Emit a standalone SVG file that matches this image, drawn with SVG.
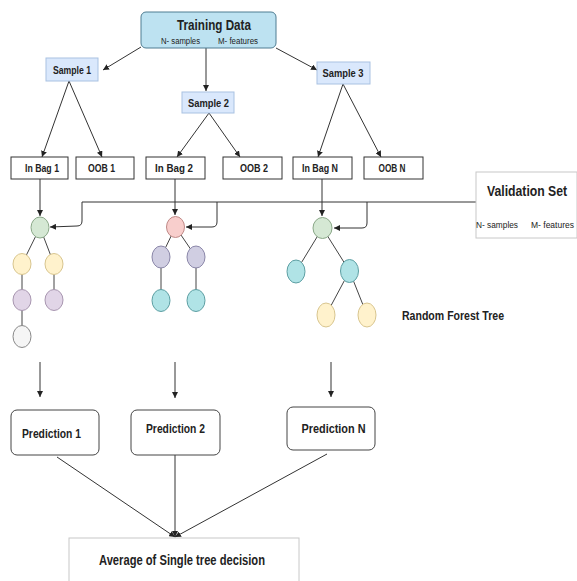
<svg xmlns="http://www.w3.org/2000/svg" width="577" height="581" viewBox="0 0 577 581">
<defs>
<marker id="arr" viewBox="0 0 10 10" refX="10" refY="5" markerWidth="6" markerHeight="6" markerUnits="userSpaceOnUse" orient="auto">
<path d="M0,0 L10,5 L0,10 Z" fill="#222"/>
</marker>
<style>
.t{font-family:"Liberation Sans",Arial,sans-serif;fill:#222;}
.b{font-weight:bold;}
.c{stroke:#333;stroke-width:1;fill:none;}
.bag{fill:#fff;stroke:#333;stroke-width:1;}
.smp{fill:#dae8fc;stroke:#a9c2e2;stroke-width:1;}
.pred{fill:#fff;stroke:#444;stroke-width:1;}
.lt{fill:#fff;stroke:#c8c8c8;stroke-width:1;}
.edge{stroke:#444;stroke-width:1;}
.g{fill:#d5e8d4;stroke:#8aa888;}
.y{fill:#fff2cc;stroke:#d8c58e;}
.p{fill:#e1d5e7;stroke:#a896b0;}
.w{fill:#f5f5f5;stroke:#888;}
.r{fill:#f8cecc;stroke:#c08a88;}
.l{fill:#d0cee2;stroke:#8a86a8;}
.q{fill:#b0e3e6;stroke:#5c9ea2;}
</style>
</defs>

<g id="connectors">
<path class="c" d="M141,47 L103,70" marker-end="url(#arr)"/>
<path class="c" d="M206,48 L206,91" marker-end="url(#arr)"/>
<path class="c" d="M276,48 L317,70" marker-end="url(#arr)"/>
<path class="c" d="M69,81 L42,157" marker-end="url(#arr)"/>
<path class="c" d="M69,81 L102,157" marker-end="url(#arr)"/>
<path class="c" d="M209,113 L177,157" marker-end="url(#arr)"/>
<path class="c" d="M209,113 L240,157" marker-end="url(#arr)"/>
<path class="c" d="M343,84 L318,157" marker-end="url(#arr)"/>
<path class="c" d="M343,84 L381,157" marker-end="url(#arr)"/>
<path class="c" d="M40,179 L40,216" marker-end="url(#arr)"/>
<path class="c" d="M175,179 L175,215" marker-end="url(#arr)"/>
<path class="c" d="M322,179 L322,216" marker-end="url(#arr)"/>
<path class="c" d="M476,202 H82"/>
<path class="c" d="M82,202 V221 Q82,226 77,226 L50,227" marker-end="url(#arr)"/>
<path class="c" d="M217,202 V222 Q217,227 212,227 H186" marker-end="url(#arr)"/>
<path class="c" d="M367,202 V223 Q367,228 362,228 H334" marker-end="url(#arr)"/>
<path class="c" d="M40,362 L40,397" marker-end="url(#arr)"/>
<path class="c" d="M175,362 L175,398" marker-end="url(#arr)"/>
<path class="c" d="M331,362 L331,397" marker-end="url(#arr)"/>
<path class="c" d="M57,457 L175,537" marker-end="url(#arr)"/>
<path class="c" d="M175,455 L175,537" marker-end="url(#arr)"/>
<path class="c" d="M327,454 L175,537" marker-end="url(#arr)"/>
</g>

<g id="training-data">
<rect x="141" y="12" width="135" height="36" rx="5" fill="#bde2f1" stroke="#4f7d92" stroke-width="1"/>
<text class="t b" x="214" y="30" font-size="14" text-anchor="middle" textLength="74" lengthAdjust="spacingAndGlyphs">Training Data</text>
<text class="t" x="161" y="44" font-size="8.5" textLength="39" lengthAdjust="spacingAndGlyphs">N- samples</text>
<text class="t" x="218" y="44" font-size="8.5" textLength="40" lengthAdjust="spacingAndGlyphs">M- features</text>
</g>

<g id="sample-1">
<rect class="smp" x="46" y="58" width="52" height="23"/>
<text class="t b" x="72" y="73.5" font-size="10" text-anchor="middle" textLength="38" lengthAdjust="spacingAndGlyphs">Sample 1</text>
</g>
<g id="sample-2">
<rect class="smp" x="182" y="92" width="52" height="21"/>
<text class="t b" x="208.5" y="106.5" font-size="10" text-anchor="middle" textLength="41" lengthAdjust="spacingAndGlyphs">Sample 2</text>
</g>
<g id="sample-3">
<rect class="smp" x="317" y="62" width="53" height="22"/>
<text class="t b" x="343" y="76.5" font-size="10" text-anchor="middle" textLength="41" lengthAdjust="spacingAndGlyphs">Sample 3</text>
</g>

<g id="in-bag-1">
<rect class="bag" x="11" y="157" width="57" height="22"/>
<text class="t b" x="42" y="171.5" font-size="10" text-anchor="middle" textLength="34" lengthAdjust="spacingAndGlyphs">In Bag 1</text>
</g>
<g id="oob-1">
<rect class="bag" x="76" y="157" width="58" height="22"/>
<text class="t b" x="101.5" y="171.5" font-size="10" text-anchor="middle" textLength="27" lengthAdjust="spacingAndGlyphs">OOB 1</text>
</g>
<g id="in-bag-2">
<rect class="bag" x="146" y="157" width="59" height="22"/>
<text class="t b" x="174" y="171.5" font-size="10" text-anchor="middle" textLength="38" lengthAdjust="spacingAndGlyphs">In Bag 2</text>
</g>
<g id="oob-2">
<rect class="bag" x="223" y="157" width="59" height="22"/>
<text class="t b" x="254" y="171.5" font-size="10" text-anchor="middle" textLength="28" lengthAdjust="spacingAndGlyphs">OOB 2</text>
</g>
<g id="in-bag-n">
<rect class="bag" x="293" y="157" width="59" height="22"/>
<text class="t b" x="320" y="171.5" font-size="10" text-anchor="middle" textLength="36" lengthAdjust="spacingAndGlyphs">In Bag N</text>
</g>
<g id="oob-n">
<rect class="bag" x="364" y="157" width="59" height="22"/>
<text class="t b" x="392" y="171.5" font-size="10" text-anchor="middle" textLength="27" lengthAdjust="spacingAndGlyphs">OOB N</text>
</g>

<g id="validation-set">
<rect class="lt" x="476" y="172" width="101" height="66"/>
<text class="t b" font-size="15" transform="translate(487,196) scale(0.815,1)">Validation Set</text>
<text class="t" x="476" y="228" font-size="9" textLength="42" lengthAdjust="spacingAndGlyphs">N- samples</text>
<text class="t" x="531" y="228" font-size="9" textLength="43" lengthAdjust="spacingAndGlyphs">M- features</text>
</g>

<g id="tree-1">
<line class="edge" x1="40" y1="227.5" x2="22" y2="264"/>
<line class="edge" x1="40" y1="227.5" x2="54" y2="264"/>
<line class="edge" x1="22" y1="264" x2="22" y2="336"/>
<line class="edge" x1="54" y1="264" x2="54" y2="300"/>
<ellipse class="g" cx="40" cy="227.5" rx="9" ry="10.5"/>
<ellipse class="y" cx="22" cy="264" rx="9" ry="10.5"/>
<ellipse class="y" cx="54" cy="264" rx="9" ry="10.5"/>
<ellipse class="p" cx="22" cy="300" rx="9" ry="10.5"/>
<ellipse class="p" cx="54" cy="300" rx="9" ry="10.5"/>
<ellipse class="w" cx="22" cy="336.5" rx="9" ry="11"/>
</g>

<g id="tree-2">
<line class="edge" x1="175.5" y1="227" x2="161" y2="257"/>
<line class="edge" x1="175.5" y1="227" x2="196" y2="257"/>
<line class="edge" x1="161" y1="257" x2="161" y2="300"/>
<line class="edge" x1="196" y1="257" x2="196" y2="300"/>
<ellipse class="r" cx="175.5" cy="227" rx="9" ry="10.5"/>
<ellipse class="l" cx="161" cy="257" rx="9" ry="11"/>
<ellipse class="l" cx="196" cy="257" rx="9" ry="11"/>
<ellipse class="q" cx="161" cy="300.5" rx="9" ry="11"/>
<ellipse class="q" cx="196" cy="300.5" rx="9" ry="11"/>
</g>

<g id="tree-n">
<line class="edge" x1="322.5" y1="228" x2="296" y2="271.5"/>
<line class="edge" x1="322.5" y1="228" x2="349.5" y2="271"/>
<line class="edge" x1="349.5" y1="271" x2="326" y2="315"/>
<line class="edge" x1="349.5" y1="271" x2="367" y2="315"/>
<ellipse class="g" cx="322.5" cy="228" rx="9.5" ry="10.5"/>
<ellipse class="q" cx="296" cy="271.5" rx="9" ry="11.5"/>
<ellipse class="q" cx="349.5" cy="271" rx="9" ry="11.5"/>
<ellipse class="y" cx="326" cy="315" rx="9" ry="12"/>
<ellipse class="y" cx="367" cy="315" rx="9" ry="12"/>
</g>

<g id="random-forest-label">
<text class="t b" x="402" y="320" font-size="12" textLength="102" lengthAdjust="spacingAndGlyphs">Random Forest Tree</text>
</g>

<g id="prediction-1">
<rect class="pred" x="11" y="410" width="88" height="45" rx="6"/>
<text class="t b" x="51.5" y="437.5" font-size="13" text-anchor="middle" textLength="59" lengthAdjust="spacingAndGlyphs">Prediction 1</text>
</g>
<g id="prediction-2">
<rect class="pred" x="131" y="410" width="89" height="45" rx="6"/>
<text class="t b" x="175.5" y="432.5" font-size="13" text-anchor="middle" textLength="59" lengthAdjust="spacingAndGlyphs">Prediction 2</text>
</g>
<g id="prediction-n">
<rect class="pred" x="287" y="407" width="88" height="43" rx="6"/>
<text class="t b" x="333.5" y="432.5" font-size="13" text-anchor="middle" textLength="64" lengthAdjust="spacingAndGlyphs">Prediction N</text>
</g>

<g id="average">
<rect class="lt" x="69" y="538" width="230" height="55"/>
<text class="t b" x="182" y="565" font-size="14" text-anchor="middle" textLength="166" lengthAdjust="spacingAndGlyphs">Average of Single tree decision</text>
</g>
</svg>
